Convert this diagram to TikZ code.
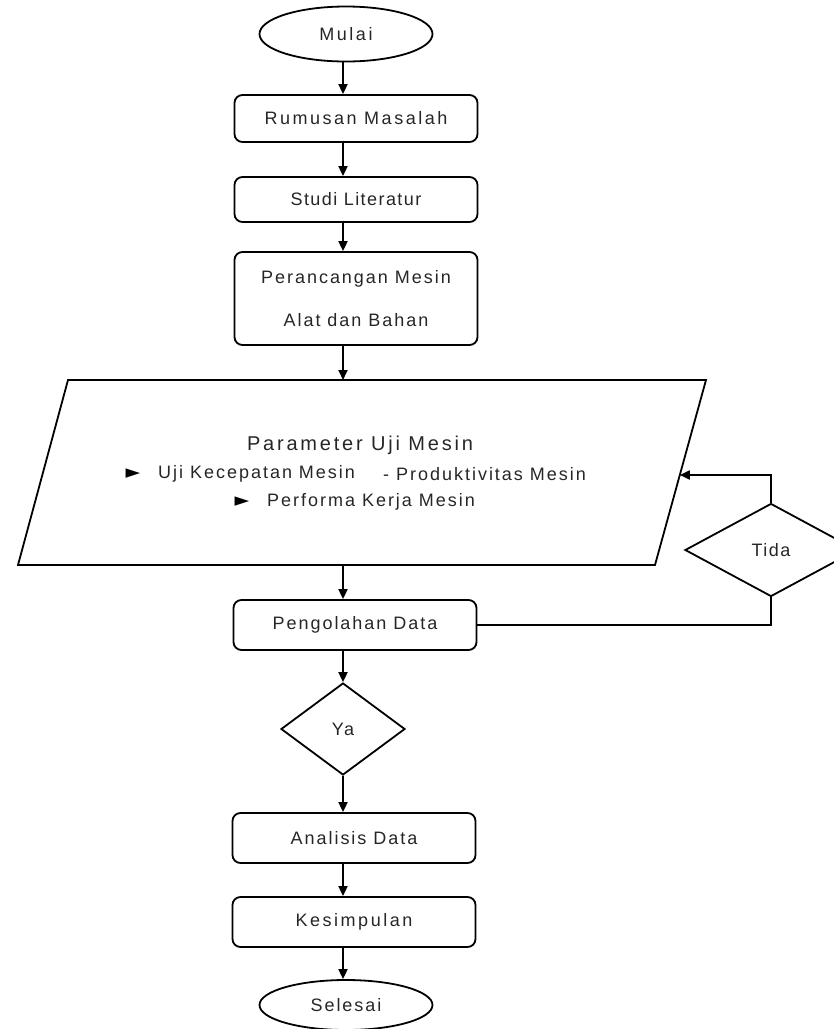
\documentclass[tikz,border=0pt]{standalone}
\usepackage{fontspec}
\setmainfont{Liberation Sans}
\newfontfamily\lsA[LetterSpace=8]{Liberation Sans}
\newfontfamily\lsB[LetterSpace=11]{Liberation Sans}
\newfontfamily\lsC[LetterSpace=14]{Liberation Sans}
\newfontfamily\symf{DejaVu Sans}
\newcommand\myfs{\fontsize{18}{21}\selectfont}
\usetikzlibrary{shapes.geometric,arrows.meta}
\tikzset{
  ln/.style={line width=1.8pt, draw=black},
  arr/.style={ln, -{Triangle[length=10pt,width=9pt]}},
  procbox/.style={draw, line width=1.8pt, rounded corners=8pt, minimum width=243pt, inner sep=0pt, text=black!85},
  term/.style={draw, ellipse, line width=1.8pt, minimum width=173pt, minimum height=55pt, inner sep=0pt, text=black!85},
  dec/.style={draw, diamond, line width=1.8pt, inner sep=0pt, text=black!85},
  lbl/.style={inner sep=0pt, text=black!85},
  tri/.style={inner sep=0pt, text=black, font=\symf\fontsize{19}{20}\selectfont},
}
\begin{document}
\begin{tikzpicture}[x=1pt,y=-1pt]
\useasboundingbox (0,0) rectangle (834,1029);
\clip (0,0) rectangle (834,1029);
\coordinate (ax) at (343,0);
% nodes
\node[term, font=\lsC\myfs] (mulai) at (346,34) {Mulai};
\node[procbox, minimum height=47pt, font=\lsC\myfs] (rum) at (356,118.5) {Rumusan Masalah};
\node[procbox, minimum height=45pt, font=\lsA\myfs] (stu) at (356,199.5) {Studi Literatur};
\node[procbox, minimum height=93pt, font=\lsB\myfs, align=center] (per) at (356,298.5) {Perancangan Mesin\\[22pt]Alat dan Bahan};
% parallelogram
\coordinate (p1) at (68,380);
\coordinate (p2) at (706,380);
\coordinate (p3) at (655,565);
\coordinate (p4) at (18,565);
\draw[ln, line join=miter] (p1) -- (p2) -- (p3) -- (p4) -- cycle;
\path (p2) -- (p3) coordinate[pos=0.5135] (pin);
\node[lbl, font=\lsC\fontsize{20}{23}\selectfont] (ttl) at (360,445) {Parameter Uji Mesin};
\node[tri] (b1) at (133,474) {►};
\node[lbl, font=\lsB\myfs, anchor=west] (u1) at (158,474) {Uji Kecepatan Mesin};
\node[lbl, font=\lsB\myfs, anchor=west] (u2) at (383,474) {- Produktivitas Mesin};
\node[tri] (b2) at (242,502) {►};
\node[lbl, font=\lsB\myfs, anchor=west] (u3) at (267,502) {Performa Kerja Mesin};
\node[procbox, minimum height=50pt, font=\lsB\myfs] (pen) at (355,625) {Pengolahan Data};
\node[dec, minimum width=124pt, minimum height=92pt, font=\lsA\myfs] (ya) at (343,729) {Ya};
\node[procbox, minimum height=50pt, font=\lsB\myfs] (ana) at (354,838) {Analisis Data};
\node[procbox, minimum height=50pt, font=\lsC\myfs] (kes) at (354,922) {Kesimpulan};
\node[term, minimum height=50pt, font=\lsB\myfs] (sel) at (346,1005) {Selesai};
\node[dec, minimum width=172pt, minimum height=93pt, font=\lsA\myfs] (tid) at (771,550) {Tida};
% connectors
\draw[arr] (mulai.south -| ax) -- (rum.north -| ax);
\draw[arr] (rum.south -| ax) -- (stu.north -| ax);
\draw[arr] (stu.south -| ax) -- (per.north -| ax);
\draw[arr] (per.south -| ax) -- (ax |- p1);
\draw[arr] (ax |- p4) -- (pen.north -| ax);
\draw[arr] (pen.south -| ax) -- (ya.north);
\draw[arr] (ya.south) -- (ana.north -| ax);
\draw[arr] (ana.south -| ax) -- (kes.north -| ax);
\draw[arr] (kes.south -| ax) -- (sel.north -| ax);
\draw[ln] (pen.east) -| (tid.south);
\draw[arr] (tid.north) |- (pin);
\end{tikzpicture}
\end{document}
